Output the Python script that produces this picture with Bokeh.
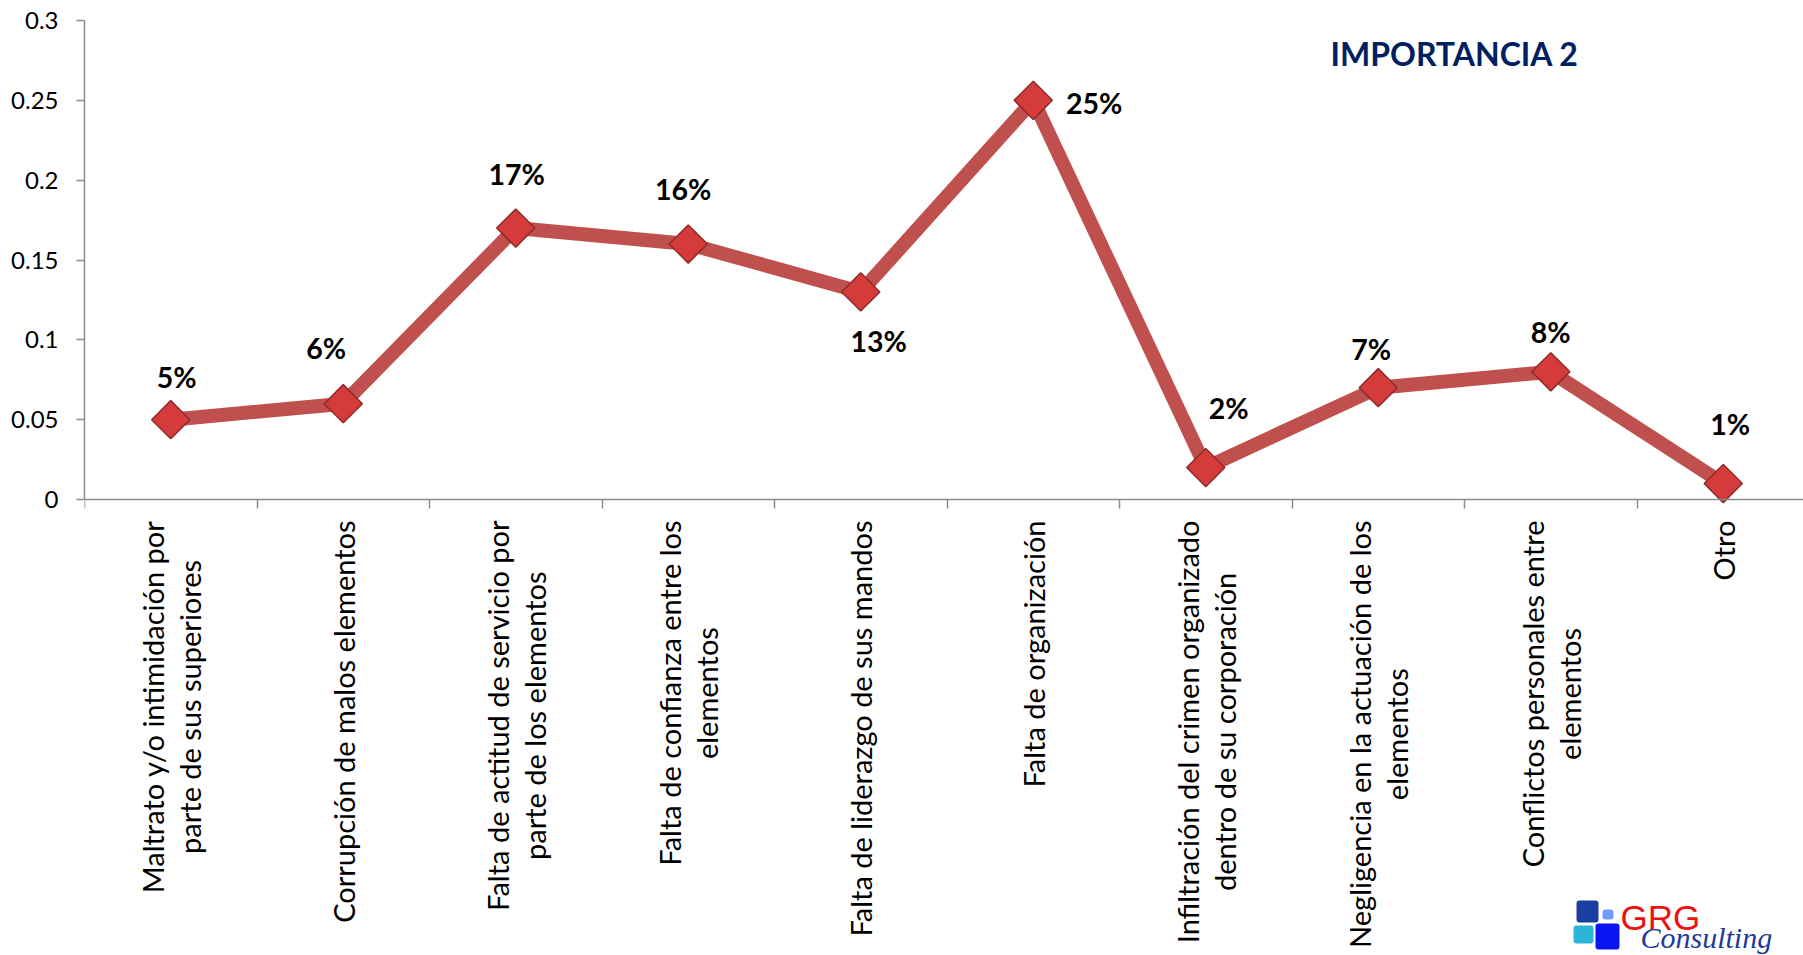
from math import pi
from bokeh.plotting import figure
from bokeh.models import (Range1d, FixedTicker, CustomJSTickFormatter, ColumnDataSource,
                          Label, BoxAnnotation)
from bokeh.core.properties import value
from bokeh.embed import file_html
from bokeh.resources import INLINE

# ---------------- data ----------------
categories = [
    "Maltrato y/o intimidación por\nparte de sus superiores",
    "Corrupción de malos elementos",
    "Falta de actitud de servicio por\nparte de los elementos",
    "Falta de confianza entre los\nelementos",
    "Falta de liderazgo de sus mandos",
    "Falta de organización",
    "Infiltración del crimen organizado\ndentro de su corporación",
    "Negligencia en la actuación de los\nelementos",
    "Conflictos personales entre\nelementos",
    "Otro",
]
values = [0.05, 0.06, 0.17, 0.16, 0.13, 0.25, 0.02, 0.07, 0.08, 0.01]
value_labels = ["5%", "6%", "17%", "16%", "13%", "25%", "2%", "7%", "8%", "1%"]
y_ticks = [0, 0.05, 0.1, 0.15, 0.2, 0.25, 0.3]
y_max = 0.3
title_text = "IMPORTANCIA 2"

# ---------------- style / layout ----------------
label_dx = [6, -17, 1, -5, 18, 61, 23, -7, 0, 7]        # px, right positive
label_dy = [43, 56, 54, 55, -49, -3, 60, 39, 40, 60]    # px, up positive

FONT = "Lato"
AXIS_COLOR = "#8C8C8C"
LINE_COLOR = "#C0504D"

W, H = 1803, 955
LEFT, TOP = 84, 20          # frame left / top (px)
ZERO_Y = 499                # pixel row of value 0
CAT_W = 172.5               # px per category
frame_w = W - LEFT
px_per_unit = (ZERO_Y - TOP) / y_max
y_min = -(H - ZERO_Y) / px_per_unit

xs = list(range(len(categories)))
p = figure(width=W, height=H, output_backend="svg", toolbar_location=None,
           x_range=Range1d(-0.5, -0.5 + frame_w / CAT_W), y_range=Range1d(y_min, y_max),
           min_border_left=LEFT, min_border_right=0, min_border_top=TOP,
           min_border_bottom=0)
p.outline_line_color = None
p.grid.visible = False
p.background_fill_color = "white"
p.border_fill_color = "white"

src = ColumnDataSource(dict(x=xs, y=values, lab=value_labels,
                            dx=label_dx, dy=[-d for d in label_dy]))

p.line("x", "y", source=src, line_color=LINE_COLOR, line_width=14, line_join="round")
p.scatter("x", "y", source=src, marker="square", size=27, angle=pi / 4,
          fill_color="#D63B3B", line_color="#8E2A2A", line_width=1.5)
p.text("x", "y", text="lab", source=src, x_offset="dx", y_offset="dy",
       text_font=value(FONT), text_font_style="bold", text_font_size="28.5px",
       text_align="center", text_baseline="middle", text_color="black")

# x axis (drawn at value 0, category separators as ticks)
xa = p.xaxis[0]
xa.fixed_location = 0
xa.ticker = FixedTicker(ticks=[], minor_ticks=[i - 0.5 for i in range(len(categories) + 1)])
xa.major_tick_out = 0
xa.major_tick_in = 0
xa.minor_tick_out = 9
xa.minor_tick_in = 0
xa.minor_tick_line_color = AXIS_COLOR
xa.minor_tick_line_width = 1.5
xa.axis_line_color = AXIS_COLOR
xa.axis_line_width = 1.5

# category labels: rotated, lines centred, anchored just below the axis
cat_src = ColumnDataSource(dict(x=xs, y=[0] * len(xs), t=categories))
p.text("x", "y", text="t", source=cat_src, angle=pi / 2, y_offset=21,
       text_font=value(FONT), text_font_size="29px", text_color="black",
       text_align="center", anchor="center_right", text_line_height=1.05)

# y axis
ya = p.yaxis[0]
ya.bounds = (0, y_max)
ya.ticker = FixedTicker(ticks=y_ticks, minor_ticks=[])
ya.formatter = CustomJSTickFormatter(code="return tick.toString()")
ya.major_tick_out = 8
ya.major_tick_in = 0
ya.minor_tick_out = 0
ya.minor_tick_in = 0
ya.major_tick_line_color = AXIS_COLOR
ya.major_tick_line_width = 1.5
ya.axis_line_color = AXIS_COLOR
ya.axis_line_width = 1.5
ya.major_label_standoff = 18
ya.major_label_text_font = FONT
ya.major_label_text_font_size = "24px"
ya.major_label_text_color = "black"

# helper: canvas pixel -> data coordinates (for decorative annotations)
def px2d(px, py):
    return ((px - LEFT) / CAT_W - 0.5, (ZERO_Y - py) / px_per_unit)

tx, ty = px2d(1330, 53)
p.add_layout(Label(x=tx, y=ty, text=title_text, text_font=FONT, text_font_style="bold",
                   text_font_size="32px", text_color="#002060",
                   text_align="left", text_baseline="middle"))

# logo (bottom right)
def box(x0, y0, x1, y1, color):
    l, t = px2d(x0, y0)
    r, b = px2d(x1, y1)
    p.add_layout(BoxAnnotation(left=l, right=r, top=t, bottom=b, fill_color=color,
                               fill_alpha=1, line_color=None, border_radius=3))

box(1576, 900, 1598, 922, "#1A3FA0")
box(1602, 909, 1613, 919, "#6F9BFF")
box(1573, 925, 1593, 943, "#2BB5D8")
box(1595, 923, 1619, 949, "#0A14F0")
gx, gy = px2d(1620, 917)
p.add_layout(Label(x=gx, y=gy, text="GRG", text_font="Liberation Sans",
                   text_font_size="35px", text_color="#F01010",
                   text_align="left", text_baseline="middle"))
cx, cy = px2d(1640, 937)
p.add_layout(Label(x=cx, y=cy, text="Consulting", text_font="Liberation Serif",
                   text_font_style="italic", text_font_size="30px", text_color="#1E3A9A",
                   text_align="left", text_baseline="middle"))

open("out.html", "w").write(file_html(p, INLINE))
